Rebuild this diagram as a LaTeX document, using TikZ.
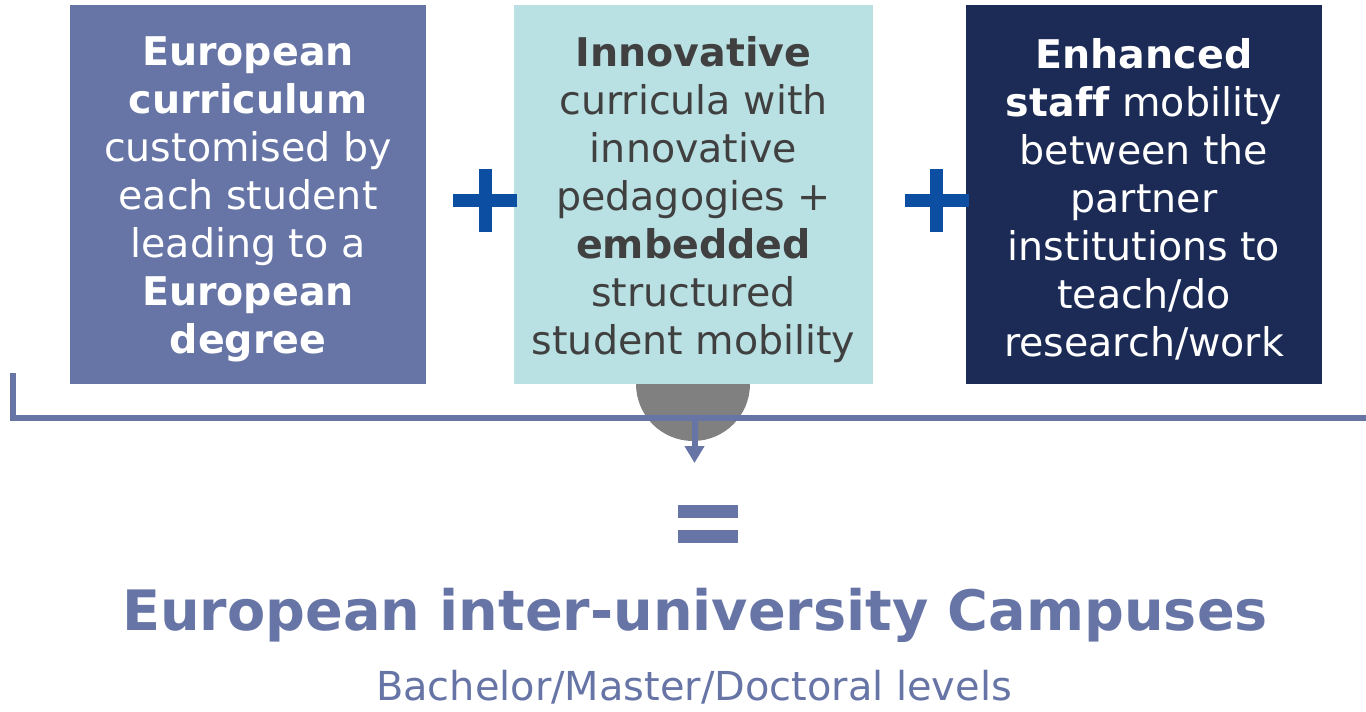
\documentclass[tikz,border=0pt]{standalone}
\usepackage{fontspec}
\setmainfont{DejaVu Sans}[Ligatures=CommonOff]
\usepackage{tikz}
\usetikzlibrary{arrows.meta}
\definecolor{eublue}{HTML}{6674A6}
\definecolor{eucyan}{HTML}{B9E0E3}
\definecolor{eunavy}{HTML}{1C2B55}
\definecolor{plusblue}{HTML}{0B4EA2}
\definecolor{textgrey}{HTML}{404040}
\definecolor{dotgrey}{HTML}{808080}
\tikzstyle{box}=[inner sep=0pt, minimum height=7.58cm, minimum width=7.12cm]
\tikzstyle{boxtext}=[inner sep=0pt, yshift=-0.1cm, align=center, font=\fontsize{22.5}{27.3}\selectfont]
\tikzstyle{bar}=[line width=0.26cm, plusblue]
\tikzstyle{bracket}=[line width=0.12cm, eublue]

\begin{document}
\begin{tikzpicture}[x=0.02cm, y=-0.02cm]
        \useasboundingbox (0,0) rectangle (1366,711);

        \coordinate (dot) at (693,384);
        \fill [dotgrey] (dot) circle (1.14cm);

        \node [box, fill=eublue] (curric) at (248,194.5) {};
        \node [box, fill=eucyan, minimum width=7.18cm] (pedag) at (693.5,194.5) {};
        \node [box, fill=eunavy] (staff) at (1144,194.5) {};

        \node [boxtext, text=white] (curricText) at (curric)
            {\textbf{European}\\ \textbf{curriculum}\\ customised by\\ each student\\ leading to a\\ \textbf{European}\\ \textbf{degree}};
        \node [boxtext, text=textgrey] (pedagText) at (pedag)
            {\textbf{Innovative}\\ curricula with\\ innovative\\ pedagogies +\\ \textbf{embedded}\\ structured\\ student mobility};
        \node [boxtext, text=white] (staffText) at (staff)
            {\textbf{Enhanced}\\ \textbf{staff} mobility\\ between the\\ partner\\ institutions to\\ teach/do\\ research/work};

        \coordinate (plusA) at (485,200.5);
        \coordinate (plusB) at (936.5,200.5);
        \draw [bar] (plusA) ++(-32,0) -- ++(64,0) (plusA) ++(0,-31.5) -- ++(0,63);
        \draw [bar] (plusB) ++(-32,0) -- ++(64,0) (plusB) ++(0,-31.5) -- ++(0,63);

        \coordinate (brL) at (13,373);
        \coordinate (brC) at (13,418);
        \coordinate (brR) at (1366,418);
        \coordinate (brM) at (694.5,418);
        \coordinate (tip) at (694.5,463);
        \draw [bracket] (brL) -- (brC) -- (brR);
        \draw [bracket, -{Triangle[width=0.38cm,length=0.34cm]}] (brM) -- (tip);

        \coordinate (eq) at (708,524);
        \draw [bar, eublue] (eq) ++(-30,-12.5) -- ++(60,0) (eq) ++(-30,12.5) -- ++(60,0);

        \node [anchor=base, text=eublue, font=\fontsize{31.7}{38}\selectfont\bfseries] (campus) at (695,630)
            {European inter-university Campuses};
        \node [anchor=base, text=eublue, font=\fontsize{22.7}{27}\selectfont] (levels) at (694,700)
            {Bachelor/Master/Doctoral levels};
\end{tikzpicture}
\end{document}
